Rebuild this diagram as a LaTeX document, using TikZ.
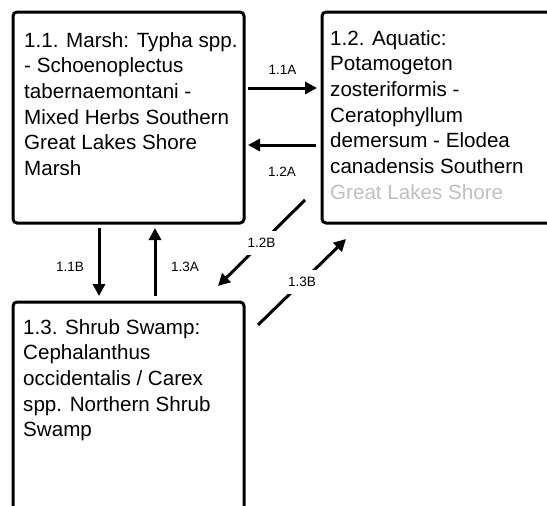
\documentclass[tikz,border=0pt]{standalone}
\usepackage{fontspec}
\setmainfont{Liberation Sans}
\usetikzlibrary{arrows.meta}

\begin{document}
\begin{tikzpicture}[x=1pt, y=-1pt,
		box/.style={draw, line width=3pt, rounded corners=4pt, anchor=north west,
			minimum width=231pt, minimum height=211pt, inner sep=0pt},
		boxtext/.style={anchor=north west, inner sep=0pt, align=left,
			font=\fontsize{20.6}{25.7}\selectfont},
		flow/.style={-{Triangle[length=12pt, width=12pt]}, line width=3pt},
		lab/.style={font=\fontsize{13.5}{16}\selectfont, inner sep=1pt}]

		%Bildausschnitt
		\useasboundingbox (0,0) rectangle (547,506);
		\clip (0,0) rectangle (547,506);

		%Kaesten
		\node [box] (marsh) at (11.5,10.5) {};
		\node [box] (aquatic) at (320.5,10.5) {};
		\node [box] (swamp) at (11.5,300.5) {};

		%Texte
		\node [boxtext] (marshtext) at (24,32) {1.1. Marsh: Typha spp.\\ - Schoenoplectus\\ tabernaemontani -\\ Mixed Herbs Southern\\ Great Lakes Shore\\ Marsh};
		\node [boxtext] (aquatictext) at (330,30) {1.2. Aquatic:\\ Potamogeton\\ zosteriformis -\\ Ceratophyllum\\ demersum - Elodea\\ canadensis Southern\\ \textcolor{black!25}{Great Lakes Shore}};
		\node [boxtext] (swamptext) at (23,319) {1.3. Shrub Swamp:\\ Cephalanthus\\ occidentalis / Carex\\ spp. Northern Shrub\\ Swamp};

		%Endpunkte der Pfeile
		\coordinate (A) at (248,88);
		\coordinate (B) at (317,88);
		\coordinate (C) at (316,145);
		\coordinate (D) at (248,145);
		\coordinate (E) at (99,228);
		\coordinate (F) at (99,296);
		\coordinate (G) at (155,296);
		\coordinate (H) at (155,228);
		\coordinate (I) at (305,200);
		\coordinate (J) at (218,286);
		\coordinate (K) at (258,325);
		\coordinate (L) at (346,239);

		%Pfeile
		\draw [flow] (A) -- (B) node [lab, midway, yshift=18pt] (l11a) {1.1A};
		\draw [flow] (C) -- (D) node [lab, midway, yshift=-27pt] (l12a) {1.2A};
		\draw [flow] (E) -- (F) node [lab, midway, xshift=-29pt, yshift=-5pt] (l11b) {1.1B};
		\draw [flow] (G) -- (H) node [lab, midway, xshift=30pt, yshift=-5pt] (l13a) {1.3A};
		\draw [flow] (I) -- (J) node [lab, midway, fill=white, inner ysep=7pt] (l12b) {1.2B};
		\draw [flow] (K) -- (L) node [lab, midway, fill=white, inner ysep=7pt] (l13b) {1.3B};

	\end{tikzpicture}
\end{document}
